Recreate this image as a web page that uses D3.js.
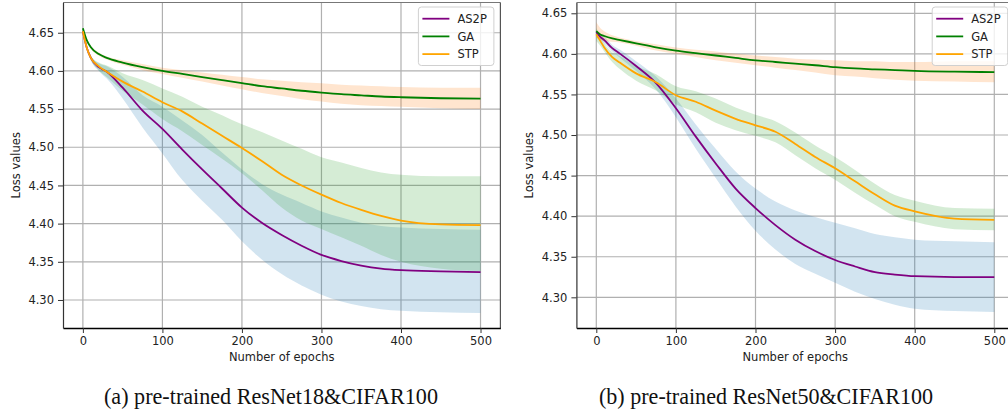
<!DOCTYPE html>
<html>
<head>
<meta charset="utf-8">
<script src="https://cdn.jsdelivr.net/npm/d3@7"></script>
<style>
  body { margin: 0; background: #fff; }
  text { font-family: "DejaVu Sans", sans-serif; }
</style>
</head>
<body>
<div id="chart-area"></div>
<script>
var epochs = [0, 5, 10, 20, 30, 50, 75, 100, 125, 150, 175, 200, 225, 250, 275, 300, 325, 350, 375, 400, 450, 500];
var seriesNames = ["AS2P", "GA", "STP"];
var xTicks = [0, 100, 200, 300, 400, 500];
var yTicks = [4.30, 4.35, 4.40, 4.45, 4.50, 4.55, 4.60, 4.65];
var captions = ["(a) pre-trained ResNet18&CIFAR100", "(b) pre-trained ResNet50&CIFAR100"];

// (a) ResNet18
var r18As2p = [4.652, 4.630, 4.617, 4.605, 4.599, 4.578, 4.548, 4.524, 4.497, 4.471, 4.446, 4.421, 4.401, 4.385, 4.371, 4.359, 4.351, 4.345, 4.341, 4.339, 4.3375, 4.3366];
var r18As2pLo = [4.652, 4.628, 4.614, 4.600, 4.590, 4.564, 4.526, 4.492, 4.457, 4.430, 4.405, 4.377, 4.353, 4.334, 4.319, 4.307, 4.298, 4.292, 4.288, 4.286, 4.284, 4.283];
var r18As2pHi = [4.652, 4.632, 4.620, 4.610, 4.606, 4.592, 4.568, 4.553, 4.535, 4.516, 4.493, 4.471, 4.452, 4.438, 4.427, 4.416, 4.408, 4.401, 4.397, 4.395, 4.393, 4.392];
var r18Ga = [4.656, 4.640, 4.631, 4.622, 4.617, 4.611, 4.605, 4.600, 4.596, 4.592, 4.588, 4.584, 4.580, 4.577, 4.574, 4.5716, 4.5695, 4.568, 4.5665, 4.5655, 4.5642, 4.5636];
var r18GaLo = [4.655, 4.639, 4.629, 4.620, 4.615, 4.608, 4.601, 4.596, 4.591, 4.586, 4.581, 4.576, 4.571, 4.567, 4.563, 4.560, 4.557, 4.555, 4.554, 4.553, 4.551, 4.550];
var r18GaHi = [4.657, 4.641, 4.633, 4.624, 4.619, 4.614, 4.609, 4.604, 4.601, 4.598, 4.595, 4.592, 4.589, 4.587, 4.585, 4.584, 4.582, 4.581, 4.580, 4.579, 4.578, 4.578];
var r18Stp = [4.652, 4.630, 4.617, 4.606, 4.599, 4.586, 4.573, 4.559, 4.547, 4.531, 4.515, 4.499, 4.482, 4.464, 4.450, 4.438, 4.427, 4.418, 4.410, 4.404, 4.399, 4.398];
var r18StpLo = [4.652, 4.629, 4.614, 4.601, 4.592, 4.574, 4.556, 4.537, 4.521, 4.503, 4.485, 4.466, 4.444, 4.421, 4.404, 4.393, 4.382, 4.371, 4.359, 4.350, 4.341, 4.338];
var r18StpHi = [4.652, 4.631, 4.620, 4.611, 4.607, 4.597, 4.588, 4.577, 4.566, 4.553, 4.542, 4.530, 4.520, 4.509, 4.498, 4.487, 4.480, 4.473, 4.467, 4.464, 4.462, 4.462];

// (b) ResNet50
var r50As2p = [4.627, 4.621, 4.617, 4.607, 4.600, 4.585, 4.564, 4.533, 4.498, 4.465, 4.434, 4.410, 4.389, 4.371, 4.357, 4.346, 4.338, 4.331, 4.328, 4.326, 4.325, 4.325];
var r50As2pLo = [4.624, 4.618, 4.613, 4.603, 4.595, 4.579, 4.556, 4.522, 4.483, 4.447, 4.412, 4.382, 4.359, 4.341, 4.329, 4.318, 4.307, 4.298, 4.291, 4.286, 4.283, 4.282];
var r50As2pHi = [4.630, 4.624, 4.621, 4.611, 4.605, 4.591, 4.572, 4.545, 4.513, 4.483, 4.455, 4.434, 4.418, 4.407, 4.399, 4.392, 4.385, 4.378, 4.374, 4.371, 4.369, 4.368];
var r50Ga = [4.628, 4.624, 4.622, 4.619, 4.617, 4.613, 4.608, 4.604, 4.601, 4.598, 4.595, 4.592, 4.590, 4.588, 4.586, 4.5836, 4.582, 4.581, 4.580, 4.579, 4.578, 4.5775];
var r50GaLo = [4.620, 4.617, 4.616, 4.615, 4.614, 4.610, 4.604, 4.600, 4.596, 4.592, 4.589, 4.586, 4.583, 4.580, 4.577, 4.5735, 4.572, 4.570, 4.568, 4.567, 4.566, 4.565];
var r50GaHi = [4.639, 4.632, 4.628, 4.623, 4.620, 4.616, 4.612, 4.608, 4.605, 4.603, 4.600, 4.598, 4.596, 4.594, 4.593, 4.592, 4.591, 4.591, 4.590, 4.590, 4.591, 4.591];
var r50Stp = [4.624, 4.616, 4.608, 4.596, 4.589, 4.576, 4.565, 4.549, 4.541, 4.530, 4.520, 4.512, 4.504, 4.489, 4.473, 4.459, 4.443, 4.427, 4.413, 4.406, 4.397, 4.3955];
var r50StpLo = [4.616, 4.610, 4.603, 4.590, 4.581, 4.567, 4.555, 4.538, 4.528, 4.515, 4.506, 4.499, 4.491, 4.475, 4.459, 4.445, 4.429, 4.414, 4.400, 4.393, 4.384, 4.3825];
var r50StpHi = [4.632, 4.622, 4.613, 4.602, 4.597, 4.585, 4.575, 4.560, 4.554, 4.545, 4.534, 4.525, 4.517, 4.503, 4.487, 4.473, 4.457, 4.440, 4.426, 4.419, 4.410, 4.409];

var lineColours = ["#800080", "#008000", "#ffa500"];
var bandColours = ["#1f77b4", "#ff7f0e", "#2ca02c"];

var svg = d3.select("#chart-area").append("svg")
    .attr("width", 1008)
    .attr("height", 415);

svg.append("rect").attr("width", 1008).attr("height", 415).attr("fill", "#fff");

function drawPanel(box, yDomain, means, lows, highs, caption, capX){
    var x = d3.scaleLinear().domain([-25, 525]).range([box.left, box.right]);
    var y = d3.scaleLinear().domain(yDomain).range([box.bottom, box.top]);
    var g = svg.append("g");

    // grid
    g.selectAll(".vgrid").data(xTicks).enter().append("line")
        .attr("x1", function(d){ return x(d) }).attr("x2", function(d){ return x(d) })
        .attr("y1", box.top).attr("y2", box.bottom)
        .attr("stroke", "#b0b0b0").attr("stroke-width", 1.2);
    g.selectAll(".hgrid").data(yTicks).enter().append("line")
        .attr("y1", function(d){ return y(d) }).attr("y2", function(d){ return y(d) })
        .attr("x1", box.left).attr("x2", box.right)
        .attr("stroke", "#b0b0b0").attr("stroke-width", 1.2);

    // std bands first, then the mean lines
    seriesNames.forEach(function(name, i){
        var area = d3.area()
            .x(function(d, j){ return x(epochs[j]) })
            .y0(function(d, j){ return y(lows[i][j]) })
            .y1(function(d){ return y(d) })
            .curve(d3.curveMonotoneX);
        g.append("path")
            .attr("d", area(highs[i]))
            .attr("fill", bandColours[i])
            .attr("fill-opacity", 0.2);
    });
    seriesNames.forEach(function(name, i){
        var line = d3.line()
            .x(function(d, j){ return x(epochs[j]) })
            .y(function(d){ return y(d) })
            .curve(d3.curveMonotoneX);
        g.append("path")
            .attr("d", line(means[i]))
            .attr("fill", "none")
            .attr("stroke", lineColours[i])
            .attr("stroke-width", 1.8);
    });

    // spines
    g.append("line").attr("x1", box.left).attr("x2", box.right).attr("y1", box.top).attr("y2", box.top)
        .attr("stroke", "#777").attr("stroke-width", 1.2);
    g.append("line").attr("x1", box.right).attr("x2", box.right).attr("y1", box.top).attr("y2", box.bottom)
        .attr("stroke", "#555").attr("stroke-width", 1.2);

    var xAxis = g.append("g")
        .attr("transform", "translate(0," + box.bottom + ")")
        .call(d3.axisBottom(x).tickValues(xTicks).tickSize(5).tickPadding(4).tickSizeOuter(0));
    var yAxis = g.append("g")
        .attr("transform", "translate(" + box.left + ",0)")
        .call(d3.axisLeft(y).tickValues(yTicks).tickFormat(d3.format(".2f")).tickSize(5).tickPadding(4).tickSizeOuter(0));
    xAxis.select(".domain").attr("stroke", "#000").attr("stroke-width", 1.3);
    yAxis.select(".domain").attr("stroke", "#333").attr("stroke-width", 1.2);
    [xAxis, yAxis].forEach(function(a){
        a.selectAll("text").attr("font-size", "11.5px").attr("fill", "#222")
            .style("font-family", "DejaVu Sans");
        a.selectAll(".tick line").attr("stroke", "#333");
    });

    // axis labels
    g.append("text")
        .attr("x", (box.left + box.right) / 2)
        .attr("y", 361)
        .attr("font-size", "11.5px")
        .attr("text-anchor", "middle")
        .attr("fill", "#222")
        .text("Number of epochs");
    g.append("text")
        .attr("transform", "rotate(-90)")
        .attr("x", -(box.top + box.bottom) / 2)
        .attr("y", box.left - 43)
        .attr("font-size", "11.5px")
        .attr("text-anchor", "middle")
        .attr("fill", "#222")
        .text("Loss values");

    // legend, upper right
    var legend = g.append("g")
        .attr("transform", "translate(" + (box.right - 82) + "," + (box.top + 4.5) + ")");
    legend.append("rect")
        .attr("width", 75.5).attr("height", 58.5)
        .attr("rx", 3)
        .attr("fill", "#fff").attr("fill-opacity", 0.8)
        .attr("stroke", "#d0d0d0");
    seriesNames.forEach(function(name, i){
        var row = legend.append("g")
            .attr("transform", "translate(0," + (11.7 + i * 17.7) + ")");
        row.append("line")
            .attr("x1", 4).attr("x2", 31)
            .attr("stroke", lineColours[i]).attr("stroke-width", 1.8);
        row.append("text")
            .attr("x", 39).attr("y", 4.2)
            .attr("font-size", "11.5px")
            .attr("fill", "#222")
            .text(name);
    });

    // caption under the panel (narrow serif, like the paper)
    svg.append("text")
        .attr("x", capX)
        .attr("y", 404)
        .attr("text-anchor", "middle")
        .attr("font-size", "24px")
        .attr("textLength", 334)
        .attr("lengthAdjust", "spacingAndGlyphs")
        .style("font-family", "'Liberation Serif', serif")
        .attr("fill", "#111")
        .text(caption);
}

drawPanel({left: 63, right: 500.4, top: 2.5, bottom: 328}, [4.2633, 4.6896],
    [r18As2p, r18Ga, r18Stp], [r18As2pLo, r18GaLo, r18StpLo], [r18As2pHi, r18GaHi, r18StpHi],
    captions[0], 271);
drawPanel({left: 576.4, right: 1014.2, top: 2.5, bottom: 328}, [4.2622, 4.6633],
    [r50As2p, r50Ga, r50Stp], [r50As2pLo, r50GaLo, r50StpLo], [r50As2pHi, r50GaHi, r50StpHi],
    captions[1], 766);
</script>
</body>
</html>
